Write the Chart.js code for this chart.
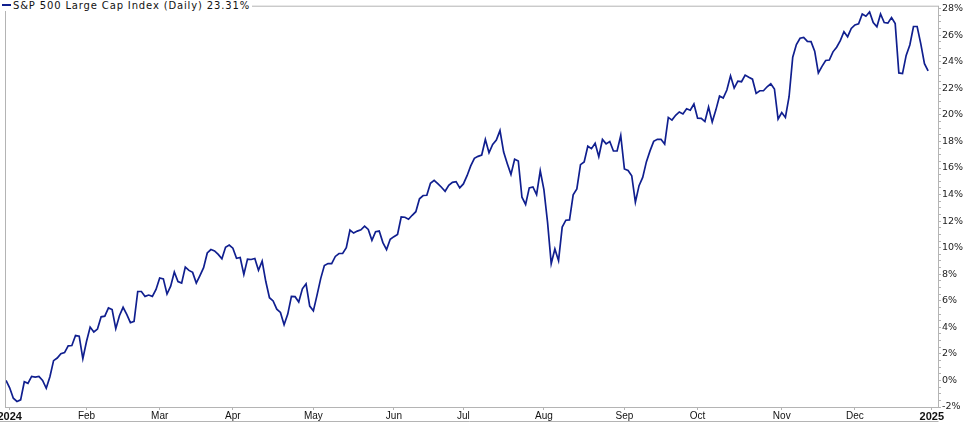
<!DOCTYPE html>
<html>
<head>
<meta charset="utf-8">
<script src="https://cdn.jsdelivr.net/npm/chart.js@4.4.1/dist/chart.umd.min.js"></script>
<style>
  body { margin: 0; background: #fff; }
  #wrap { position: relative; width: 967px; height: 424px; }
  #legend {
    position: absolute; left: 2px; top: 0px; line-height: 13px;
    font: 10px 'DejaVu Sans', Verdana, sans-serif; color: #111; letter-spacing: 0.85px;
    background: #fff; padding-right: 2px; white-space: nowrap;
  }
  #legend .sw { display: inline-block; width: 9px; height: 2px; background: #101f8f; vertical-align: 3px; margin-right: 2px; }
</style>
</head>
<body>
<div id="wrap">
  <canvas id="chart" width="967" height="424"></canvas>
  <div id="legend"><span class="sw"></span>S&amp;P 500 Large Cap Index (Daily) 23.31%</div>
</div>
<script>
// cumulative % change, one value per trading day (Dec 29 2023 -> Dec 31 2024)
const pctChange = [
  0, -0.55, -1.34, -1.58, -1.46, -0.1, -0.22, 0.3, 0.25, 0.3,
  0.0, -0.59, 0.28, 1.49, 1.69, 2.01, 2.1, 2.61, 2.63, 3.38,
  3.33, 1.64, 2.93, 4.02, 3.65, 3.87, 4.79, 4.84, 5.46, 5.34,
  3.9, 4.87, 5.51, 4.97, 4.35, 4.45, 6.7, 6.7, 6.33, 6.43,
  6.33, 6.85, 7.72, 7.65, 6.51, 7.1, 8.17, 7.45, 7.33, 8.54,
  8.29, 8.14, 7.33, 7.9, 8.5, 9.6, 9.86, 9.76, 9.49, 9.16,
  10.03, 10.2, 9.96, 9.2, 9.26, 7.99, 9.14, 9.11, 9.19, 8.3,
  8.99, 7.45, 6.23, 5.99, 5.37, 5.12, 4.2, 5.0, 6.33, 6.31,
  5.91, 6.9, 7.28, 5.6, 5.24, 6.43, 7.67, 8.66, 8.8, 8.8,
  9.34, 9.56, 9.56, 10.0, 11.32, 11.1, 11.25, 11.35, 11.62, 11.37,
  10.55, 11.2, 11.25, 10.38, 9.86, 10.63, 10.83, 11.0, 12.31, 12.29,
  12.14, 12.44, 12.71, 13.68, 13.93, 13.95, 14.85, 15.07, 14.82, 14.55,
  14.25, 14.7, 14.92, 14.97, 14.5, 14.8, 15.42, 16.16, 16.73, 16.88,
  16.98, 18.15, 17.15, 17.77, 18.1, 18.82, 17.2, 16.33, 15.52, 16.66,
  16.53, 13.8, 13.26, 14.5, 14.57, 14.0, 15.79, 14.37, 11.9, 8.8,
  9.9, 9.02, 11.55, 12.07, 12.09, 13.98, 14.42, 16.25, 16.46, 17.64,
  17.46, 17.86, 16.85, 18.15, 17.82, 18.0, 17.28, 17.28, 18.45, 15.93,
  15.82, 15.42, 13.43, 14.67, 15.29, 16.46, 17.29, 18.01, 18.16, 18.16,
  17.8, 19.81, 19.61, 19.97, 20.22, 20.07, 20.46, 20.35, 20.82, 19.76,
  19.74, 19.5, 20.6, 19.46, 20.38, 21.42, 21.27, 21.87, 22.94, 22.02,
  22.54, 22.5, 23.0, 22.84, 22.69, 21.62, 21.82, 21.82, 22.12, 22.34,
  21.95, 19.69, 20.18, 19.81, 21.37, 24.35, 25.3, 25.77, 25.84, 25.54,
  25.52, 24.8, 23.16, 23.66, 24.1, 24.13, 24.75, 25.1, 25.59, 26.26,
  25.89, 26.51, 26.78, 26.86, 27.6, 27.43, 27.75, 26.96, 26.64, 27.6,
  26.96, 26.91, 27.33, 26.88, 23.16, 23.11, 24.48, 25.27, 26.66, 26.66,
  25.35, 23.86, 23.31
];

// first trading day of each month (index into pctChange) and its label
const monthIdx = [1, 22, 42, 62, 84, 106, 125, 147, 169, 189, 212, 232, 253];
const monthLabels = ['2024', 'Feb', 'Mar', 'Apr', 'May', 'Jun', 'Jul', 'Aug', 'Sep', 'Oct', 'Nov', 'Dec', '2025'];

const yLabels = [-2, 0, 2, 4, 6, 8, 10, 12, 14, 16, 18, 20, 22, 24, 26, 28];
const yMinor = [0.5, 1, 1.5];

const lineColor = '#101f8f';
const frameColor = '#b4b4b4';

const points = pctChange.map((v, i) => ({ x: i, y: v }));

const framePlugin = {
  id: 'frame',
  beforeDatasetsDraw(chart) {
    const { ctx, chartArea: a } = chart;
    ctx.save();
    ctx.strokeStyle = frameColor;
    ctx.lineWidth = 1;
    ctx.strokeRect(a.left - 0.5, a.top - 0.5, a.right - a.left + 1, a.bottom - a.top + 1);
    // bottom rule under the date labels
    ctx.beginPath();
    ctx.moveTo(0, chart.height - 2.5);
    ctx.lineTo(a.right + 0.5, chart.height - 2.5);
    ctx.stroke();
    ctx.restore();
  }
};

const ctx = document.getElementById('chart').getContext('2d');
new Chart(ctx, {
  type: 'line',
  data: {
    datasets: [{
      label: 'S&P 500 Large Cap Index (Daily)',
      data: points,
      borderColor: lineColor,
      borderWidth: 1.7,
      pointRadius: 0,
      fill: false,
      tension: 0
    }]
  },
  options: {
    responsive: false,
    animation: false,
    layout: { padding: { left: 6, top: 1, right: 0, bottom: 0 } },
    plugins: {
      legend: { display: false },
      tooltip: { enabled: false }
    },
    scales: {
      x: {
        type: 'linear',
        min: 0,
        max: 254.7,
        afterBuildTicks: (scale) => {
          scale.ticks = monthIdx.map(v => ({ value: v }));
        },
        afterFit: (scale) => {
          scale.height = 17;
          scale.paddingLeft = 0;
          scale.paddingRight = 0;
        },
        ticks: {
          autoSkip: false,
          maxRotation: 0,
          padding: 0,
          color: '#111',
          callback: (value) => {
            const k = monthIdx.indexOf(value);
            return k >= 0 ? monthLabels[k] : '';
          },
          font: (c) => {
            const isYear = c.tick && (c.tick.value === monthIdx[0] || c.tick.value === monthIdx[monthIdx.length - 1]);
            return { family: "'Liberation Sans', Arial, sans-serif", size: isYear ? 11 : 10, weight: isYear ? 'bold' : 'normal' };
          }
        },
        grid: { drawOnChartArea: false, drawTicks: true, tickLength: 3, color: frameColor },
        border: { display: true, color: frameColor }
      },
      y: {
        position: 'right',
        min: -2,
        max: 28.15,
        afterBuildTicks: (scale) => {
          const t = [];
          yLabels.forEach(v => {
            t.push({ value: v });
            if (v < yLabels[yLabels.length - 1]) yMinor.forEach(m => t.push({ value: v + m }));
          });
          scale.ticks = t;
        },
        afterFit: (scale) => {
          scale.width = 29;
        },
        ticks: {
          autoSkip: false,
          padding: 1,
          color: '#222',
          font: { family: "'DejaVu Sans', Verdana, sans-serif", size: 9.5 },
          callback: (value) => yLabels.includes(value) ? value + '%' : ''
        },
        grid: { drawOnChartArea: false, drawTicks: true, tickLength: 3, color: frameColor },
        border: { display: true, color: frameColor }
      }
    }
  },
  plugins: [framePlugin]
});
</script>
</body>
</html>
